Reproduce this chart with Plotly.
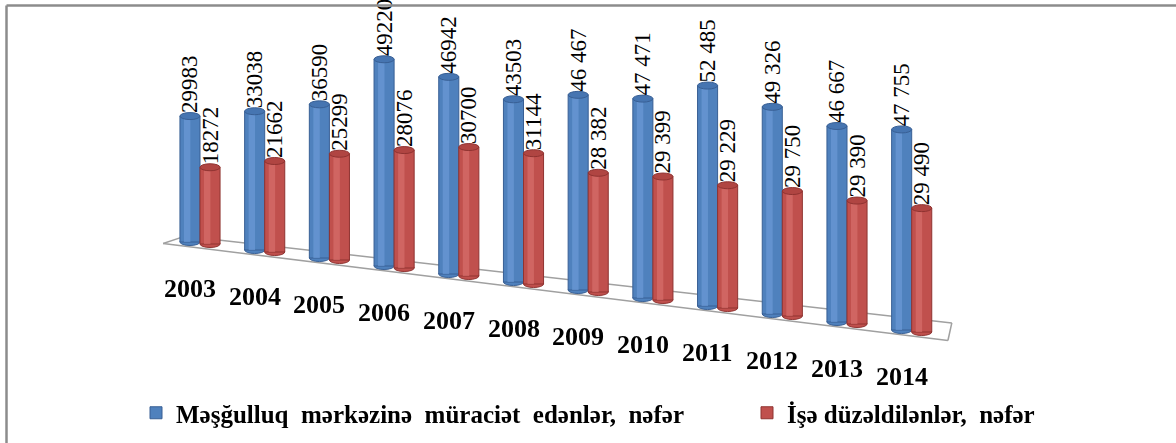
import plotly.graph_objects as go

# ---------------- data ----------------
years = ["2003", "2004", "2005", "2006", "2007", "2008",
         "2009", "2010", "2011", "2012", "2013", "2014"]
applicants = [29983, 33038, 36590, 49220, 46942, 43503,
              46467, 47471, 52485, 49326, 46667, 47755]
employed = [18272, 21662, 25299, 28076, 30700, 31144,
            28382, 29399, 29229, 29750, 29390, 29490]
applicants_text = ["29983", "33038", "36590", "49220", "46942", "43503",
                   "46 467", "47 471", "52 485", "49 326", "46 667", "47 755"]
employed_text = ["18272", "21662", "25299", "28076", "30700", "31144",
                 "28 382", "29 399", "29 229", "29 750", "29 390", "29 490"]
series_names = ["Məşğulluq\u00a0 mərkəzinə\u00a0 müraciət\u00a0 edənlər,\u00a0 nəfər",
                "İşə düzəldilənlər,\u00a0 nəfər"]

# ---------------- layout constants ----------------
W, H = 1176, 443
PX_PER_UNIT = 0.0042      # vertical scale
FLOOR_PX = 242            # pixel row of the floor under the first category
FIRST_X_PX = 200          # pixel column of first category
STEP_X_PX = 64.7          # pixel distance between categories
TILT_PX = 8               # floor drop per category (pseudo-3D tilt)
BAR_W = 0.31

FONT = "Liberation Serif"


def units(px):
    return px / PX_PER_UNIT


def py_to_y(py):
    return (FLOOR_PX - py) / PX_PER_UNIT


idx = list(range(len(years)))
blue_base = [-units(TILT_PX * i) for i in idx]
red_base = [-units(TILT_PX * i + 2) for i in idx]

BLUE, BLUE_HI, BLUE_EDGE, BLUE_CAP = "#4f81bd", "#6f9dd8", "#385f94", "#4675b1"
RED, RED_HI, RED_EDGE, RED_CAP = "#c0504d", "#d8726f", "#8f3331", "#b04542"

series = [
    (series_names[0], applicants, applicants_text, blue_base, -BAR_W, BLUE, BLUE_HI, BLUE_EDGE, BLUE_CAP, "legend"),
    (series_names[1], employed, employed_text, red_base, 0.0, RED, RED_HI, RED_EDGE, RED_CAP, "legend2"),
]

fig = go.Figure()

for name, vals, texts, base, off, col, hi, edge, cap, leg in series:
    fig.add_trace(go.Bar(
        x=idx, y=vals, base=base, width=BAR_W, offset=off, name=name, legend=leg,
        marker=dict(color=col, line=dict(color=edge, width=1)),
        text=texts, textposition="outside", textangle=-90,
        constraintext="none", cliponaxis=False,
        outsidetextfont=dict(family=FONT, size=23, color="black"),
        textfont=dict(family=FONT, size=23, color="black"),
        hovertemplate="%{x}: %{text}<extra></extra>",
    ))

for name, vals, texts, base, off, col, hi, edge, cap, leg in series:
    fig.add_trace(go.Bar(
        x=idx, y=vals, base=base, width=BAR_W * 0.32, offset=off + BAR_W * 0.2,
        marker=dict(color=hi, line=dict(width=0)), showlegend=False,
        hoverinfo="skip", opacity=0.65,
    ))

shapes = []
# pseudo-3D floor (parallelogram)
fl = (-0.57, py_to_y(FLOOR_PX - 0.57 * TILT_PX + 6))
bl = (-0.23, py_to_y(FLOOR_PX - 0.23 * TILT_PX - 4))
fr = (11.56, py_to_y(FLOOR_PX + 11.56 * TILT_PX + 6))
br = (11.62, py_to_y(FLOOR_PX + 11.62 * TILT_PX - 12))
for a, b in [(fl, bl), (bl, br), (br, fr), (fr, fl)]:
    shapes.append(dict(type="line", xref="x", yref="y", x0=a[0], y0=a[1], x1=b[0], y1=b[1],
                       line=dict(color="#a0a0a0", width=1.5), layer="below"))

# cylinder caps
CAP_H = units(7)
for name, vals, texts, base, off, col, hi, edge, cap, leg in series:
    for i, v, b in zip(idx, vals, base):
        x0 = i + off
        x1 = x0 + BAR_W
        shapes.append(dict(type="circle", xref="x", yref="y", x0=x0, x1=x1,
                           y0=b - CAP_H / 2, y1=b + CAP_H / 2,
                           fillcolor=col, line=dict(color=edge, width=1), layer="below"))
        shapes.append(dict(type="circle", xref="x", yref="y", x0=x0, x1=x1,
                           y0=b + v - CAP_H / 2, y1=b + v + CAP_H / 2,
                           fillcolor=cap, line=dict(color=edge, width=1), layer="above"))

# outer frame (top and left edges)
shapes.append(dict(type="line", xref="paper", yref="paper",
                   x0=6.5 / W, y0=0, x1=6.5 / W, y1=1 - 5.5 / H,
                   line=dict(color="#8c8c8c", width=2.5)))
shapes.append(dict(type="line", xref="paper", yref="paper",
                   x0=6.5 / W, y0=1 - 5.5 / H, x1=1, y1=1 - 5.5 / H,
                   line=dict(color="#8c8c8c", width=2.5)))

annotations = []
for i, yr, b in zip(idx, years, blue_base):
    annotations.append(dict(x=i, y=b, xref="x", yref="y", text=yr, showarrow=False,
                            xshift=-10, yshift=-46, xanchor="center", yanchor="middle",
                            font=dict(family=FONT, size=26, color="black", weight="bold")))

legend_font = dict(family=FONT, size=25, color="black", weight="bold")
fig.update_layout(
    width=W, height=H,
    font=dict(family=FONT, color="black"),
    margin=dict(l=0, r=0, t=0, b=0),
    paper_bgcolor="white", plot_bgcolor="white",
    barmode="overlay",
    xaxis=dict(visible=False, range=[(0 - FIRST_X_PX) / STEP_X_PX, (W - FIRST_X_PX) / STEP_X_PX]),
    yaxis=dict(visible=False, range=[py_to_y(H), py_to_y(0)]),
    shapes=shapes,
    annotations=annotations,
    showlegend=True,
    legend=dict(orientation="h", x=136 / W, xanchor="left", y=(H - 413) / H, yanchor="middle",
                font=legend_font, bgcolor="rgba(0,0,0,0)"),
    legend2=dict(orientation="h", x=747 / W, xanchor="left", y=(H - 413) / H, yanchor="middle",
                 font=legend_font, bgcolor="rgba(0,0,0,0)"),
)

fig.write_html("out.html", config={"displayModeBar": False},
               post_script="document.body.style.margin='0';")
